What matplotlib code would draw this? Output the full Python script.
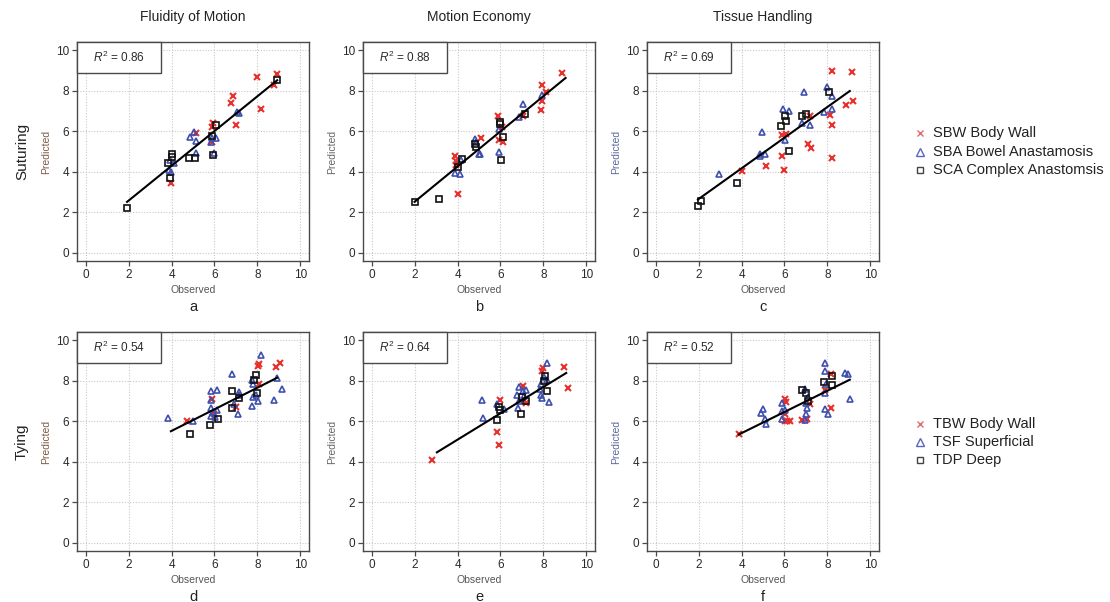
import matplotlib
matplotlib.use("Agg")
import matplotlib.pyplot as plt
from matplotlib.patches import Rectangle
from matplotlib.lines import Line2D
import numpy as np

plt.rcParams['font.family'] = ['Liberation Sans', 'DejaVu Sans']
plt.rcParams['mathtext.fontset'] = 'custom'
plt.rcParams['mathtext.it'] = 'Liberation Sans:italic'
plt.rcParams['mathtext.rm'] = 'Liberation Sans'

# ---------------- data ----------------
col_titles = ["Fluidity of Motion", "Motion Economy", "Tissue Handling"]
row_titles = ["Suturing", "Tying"]
panel_letters = ["a", "b", "c", "d", "e", "f"]
r2_values = ["0.86", "0.88", "0.69", "0.54", "0.64", "0.52"]
ticks = [0, 2, 4, 6, 8, 10]
legend_suturing = ["SBW Body Wall", "SBA Bowel Anastamosis", "SCA Complex Anastomsis"]
legend_tying = ["TBW Body Wall", "TSF Superficial", "TDP Deep"]

# fit lines: slope, intercept, x start, x end
fit_slope = [0.858, 0.869, 0.757, 0.533, 0.650, 0.523]
fit_intercept = [0.86, 0.78, 1.14, 3.39, 2.49, 3.32]
fit_x_start = [1.93, 2.00, 1.97, 3.97, 3.04, 3.88]
fit_x_end = [8.92, 9.03, 9.04, 8.92, 9.06, 9.04]

# panel a
a_red_obs = [8.92, 7.96, 8.76, 6.86, 6.75, 8.15, 6.99, 5.87, 5.95, 5.13, 5.87, 3.97]
a_red_pred = [8.80, 8.68, 8.27, 7.73, 7.37, 7.09, 6.30, 6.22, 6.40, 5.89, 5.48, 3.45]
a_blue_obs = [5.05, 4.85, 5.16, 5.15, 5.83, 5.90, 6.06, 5.98, 7.06, 7.14, 3.89, 3.97, 4.13, 3.95]
a_blue_pred = [5.97, 5.72, 5.53, 4.95, 5.48, 5.69, 5.69, 4.93, 6.96, 6.88, 4.08, 4.00, 4.44, 4.60]
a_black_obs = [1.93, 3.94, 3.82, 4.00, 4.02, 4.82, 5.10, 5.95, 6.09, 5.87, 8.92]
a_black_pred = [2.22, 3.67, 4.44, 4.90, 4.74, 4.69, 4.69, 4.82, 6.30, 5.76, 8.52]

# panel b
b_red_obs = [8.87, 7.95, 8.10, 7.92, 7.87, 7.07, 5.90, 6.08, 5.91, 6.10, 5.09, 3.86, 3.94, 3.94, 4.04]
b_red_pred = [8.88, 8.27, 7.94, 7.48, 7.04, 6.74, 6.76, 6.22, 5.59, 5.46, 5.69, 4.77, 4.54, 4.33, 2.89]
b_blue_obs = [7.95, 7.07, 6.87, 4.81, 4.86, 4.98, 5.06, 5.94, 5.94, 3.86, 4.12, 4.17]
b_blue_pred = [7.81, 7.34, 6.68, 5.63, 5.48, 4.90, 4.90, 6.09, 4.98, 3.95, 3.88, 4.57]
b_black_obs = [2.00, 3.12, 4.01, 4.20, 4.81, 4.86, 5.99, 6.00, 6.14, 6.02, 7.15]
b_black_pred = [2.52, 2.65, 4.24, 4.64, 5.39, 5.20, 6.46, 6.38, 5.71, 4.57, 6.84]

# panel c
c_red_obs = [8.21, 9.15, 9.19, 8.88, 8.14, 8.21, 8.21, 7.10, 7.22, 7.17, 6.09, 5.89, 5.89, 5.99, 5.12, 4.04]
c_red_pred = [8.98, 8.93, 7.48, 7.29, 6.79, 6.30, 4.70, 5.36, 5.18, 6.74, 5.86, 5.81, 4.79, 4.11, 4.28, 4.03]
c_blue_obs = [2.95, 4.97, 4.88, 4.88, 5.11, 5.93, 6.21, 6.01, 6.91, 6.82, 7.17, 7.97, 8.20, 8.20, 7.84]
c_blue_pred = [3.91, 5.94, 4.90, 4.77, 4.87, 7.09, 7.00, 5.59, 7.91, 6.41, 6.33, 8.19, 7.75, 7.12, 6.96]
c_black_obs = [1.97, 2.13, 3.80, 5.85, 6.04, 6.05, 6.21, 6.83, 6.99, 8.06]
c_black_pred = [2.32, 2.55, 3.45, 6.27, 6.74, 6.51, 5.02, 6.74, 6.83, 7.94]

# panel d
d_red_obs = [9.07, 8.87, 8.07, 8.04, 8.07, 5.90, 5.98, 6.99, 4.74]
d_red_pred = [8.89, 8.65, 8.84, 8.71, 7.85, 7.10, 6.37, 6.70, 6.00]
d_blue_obs = [8.15, 8.92, 9.12, 8.76, 8.04, 7.76, 7.81, 7.92, 7.79, 7.76, 6.83, 7.14, 7.14, 7.09,
              6.91, 6.11, 5.83, 5.83, 5.83, 5.94, 6.14, 5.83, 6.03, 4.98, 3.82]
d_blue_pred = [9.29, 8.13, 7.57, 7.05, 7.01, 6.76, 7.20, 7.28, 7.82, 8.02, 8.35, 7.45, 7.28, 6.37,
               6.86, 7.56, 7.49, 7.05, 6.67, 6.45, 6.53, 6.25, 6.20, 5.99, 6.17]
d_black_obs = [7.91, 7.84, 7.99, 7.14, 6.83, 6.80, 6.18, 5.78, 4.85]
d_black_pred = [8.27, 8.05, 7.39, 7.15, 7.48, 6.65, 6.12, 5.82, 5.38]

# panel e
e_red_obs = [2.82, 5.93, 5.86, 5.97, 7.07, 7.17, 7.92, 7.98, 8.95, 9.14]
e_red_pred = [4.09, 4.85, 5.49, 7.06, 7.74, 6.90, 8.48, 8.60, 8.65, 7.66]
e_blue_obs = [5.14, 5.17, 5.86, 6.17, 6.87, 6.79, 6.87, 6.82, 7.07, 7.18, 7.10, 8.15, 7.87, 7.84,
              7.87, 7.95, 8.18, 8.26, 8.02]
e_blue_pred = [7.06, 6.17, 6.83, 6.58, 7.68, 7.31, 6.98, 6.65, 7.47, 7.56, 7.25, 8.86, 7.85, 7.60,
               7.29, 7.13, 8.02, 6.96, 8.18]
e_black_obs = [5.86, 5.94, 5.97, 6.94, 7.02, 7.18, 8.07, 8.02, 8.18]
e_black_pred = [6.04, 6.70, 6.57, 6.37, 7.20, 7.00, 8.25, 7.96, 7.48]

# panel f
f_red_obs = [3.88, 6.04, 6.09, 6.04, 6.04, 6.13, 6.24, 6.83, 7.05, 7.17, 8.15, 7.87, 8.18]
f_red_pred = [5.38, 7.08, 6.95, 6.34, 6.01, 6.01, 6.01, 6.04, 6.12, 6.86, 8.32, 7.56, 6.67]
f_blue_obs = [4.92, 5.00, 5.11, 5.16, 5.89, 5.89, 5.89, 6.01, 6.97, 7.10, 6.99, 7.07, 6.99, 6.94,
              7.87, 7.90, 7.95, 7.87, 7.87, 8.03, 8.80, 8.96, 9.04]
f_blue_pred = [6.42, 6.62, 6.12, 5.87, 6.91, 6.49, 6.12, 6.53, 7.61, 7.19, 6.90, 6.67, 6.37, 6.07,
               8.89, 8.48, 7.85, 7.41, 6.62, 6.37, 8.38, 8.35, 7.11]
f_black_obs = [6.83, 7.02, 7.83, 8.21, 8.21, 7.10]
f_black_pred = [7.52, 7.39, 7.94, 8.23, 7.81, 7.00]

panels = [
    (a_red_obs, a_red_pred, a_blue_obs, a_blue_pred, a_black_obs, a_black_pred),
    (b_red_obs, b_red_pred, b_blue_obs, b_blue_pred, b_black_obs, b_black_pred),
    (c_red_obs, c_red_pred, c_blue_obs, c_blue_pred, c_black_obs, c_black_pred),
    (d_red_obs, d_red_pred, d_blue_obs, d_blue_pred, d_black_obs, d_black_pred),
    (e_red_obs, e_red_pred, e_blue_obs, e_blue_pred, e_black_obs, e_black_pred),
    (f_red_obs, f_red_pred, f_blue_obs, f_blue_pred, f_black_obs, f_black_pred),
]

# ---------------- style ----------------
W, H = 1110, 602
RED = '#e8302c'
BLUE = '#3f4fae'
BLACK = '#111111'
SPINE = '#4a4a4a'
TXT = '#2a2a2a'
ylabel_colors = ['#7d5a45', '#666666', '#5a6a9c']

fig = plt.figure(figsize=(W / 100, H / 100), dpi=100)
fig.patch.set_facecolor('white')

col_left_px = [77, 363, 647]
ax_w_px = 232
row_top_px = [42, 332]
ax_h_px = 219

for i, data in enumerate(panels):
    r, c = divmod(i, 3)
    left = col_left_px[c] / W
    bottom = 1 - (row_top_px[r] + ax_h_px) / H
    ax = fig.add_axes([left, bottom, ax_w_px / W, ax_h_px / H])
    ax.set_xlim(-0.4, 10.4)
    ax.set_ylim(-0.4, 10.4)
    ax.set_xticks(ticks)
    ax.set_yticks(ticks)
    ax.grid(True, linestyle=(0, (1, 1.5)), color='#c8c8c8', linewidth=0.8)
    ax.set_axisbelow(True)
    for s in ax.spines.values():
        s.set_color(SPINE)
        s.set_linewidth(1.0)
    ax.tick_params(direction='out', length=3.5, width=0.9, color=SPINE,
                   labelsize=8.5, labelcolor=TXT, pad=2)

    ro, rp, bo, bp, ko, kp = data
    ax.plot(ro, rp, linestyle='none', marker='x', color=RED, ms=3.8, mew=1.5, zorder=3)
    ax.plot(bo, bp, linestyle='none', marker='^', mfc='none', mec=BLUE, ms=4.4, mew=1.2, zorder=3)
    ax.plot(ko, kp, linestyle='none', marker='s', mfc='none', mec=BLACK, ms=4.0, mew=1.2, zorder=3)

    xs = np.array([fit_x_start[i], fit_x_end[i]])
    ax.plot(xs, fit_intercept[i] + fit_slope[i] * xs, color='black', lw=1.5, zorder=4)

    box_w = 84 / ax_w_px
    box_h = 31 / ax_h_px
    ax.add_patch(Rectangle((0, 1 - box_h), box_w, box_h, transform=ax.transAxes,
                           facecolor='white', edgecolor=SPINE, lw=1.0, zorder=5, clip_on=False))
    ax.text(box_w / 2, 1 - box_h / 2, r'$R^2$ = ' + r2_values[i], transform=ax.transAxes,
            ha='center', va='center', fontsize=8.5, color=TXT, zorder=6)

    ax.text(0.5, -29 / ax_h_px, 'Observed', transform=ax.transAxes, ha='center', va='center',
            fontsize=7.5, color='#555555')
    ax.text(0.5, -46 / ax_h_px, panel_letters[i], transform=ax.transAxes, ha='center', va='center',
            fontsize=10.5, color='#222222')
    ax.text(-31 / ax_w_px, 0.5, 'Predicted', transform=ax.transAxes, ha='center', va='center',
            rotation=90, fontsize=7.5, color=ylabel_colors[c])

    if r == 0:
        ax.text(0.5, 1 + 25 / ax_h_px, col_titles[c], transform=ax.transAxes, ha='center',
                va='center', fontsize=10, color='#222222')
    if c == 0:
        ax.text(-55 / ax_w_px, 0.5, row_titles[r], transform=ax.transAxes, ha='center',
                va='center', rotation=90, fontsize=11, color='#222222')

# legends
def draw_legend(labels, y_px_list):
    styles = [
        dict(marker='x', color='#e06a6a', mfc='#e06a6a', mec='#e06a6a', ms=5, mew=1.0),
        dict(marker='^', color='#5866bb', mfc='none', mec='#5866bb', ms=5.5, mew=1.0),
        dict(marker='s', color='#444444', mfc='none', mec='#444444', ms=4.5, mew=1.0),
    ]
    for st, lab, ypx in zip(styles, labels, y_px_list):
        y = 1 - ypx / H
        fig.add_artist(Line2D([920 / W], [y], linestyle='none', transform=fig.transFigure, **st))
        fig.text(933 / W, y, lab, ha='left', va='center', fontsize=10.5, color='#222222')

draw_legend(legend_suturing, [133, 152, 170])
draw_legend(legend_tying, [424, 442, 460])

fig.savefig('out.png', dpi=100, facecolor='white')
